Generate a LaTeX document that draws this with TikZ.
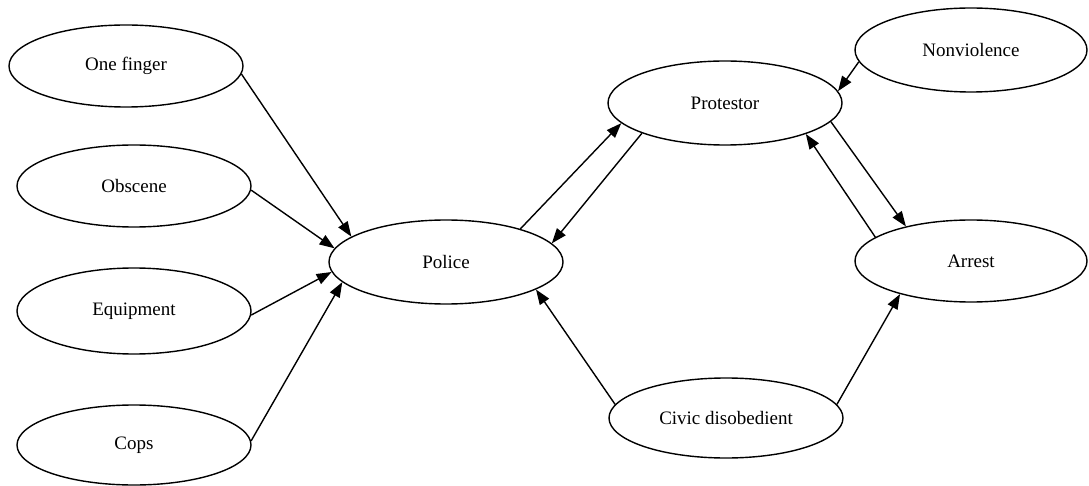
\documentclass[tikz,border=0pt]{standalone}
\usepackage{fontspec}
\setmainfont{Liberation Serif}
\usetikzlibrary{shapes.geometric,arrows.meta}
\begin{document}
\begin{tikzpicture}[x=1pt,y=-1pt,
  concept/.style={draw, ellipse, line width=1.4pt, minimum width=234pt, minimum height=82pt, inner sep=0pt, font=\fontsize{19}{22}\selectfont},
  link/.style={line width=1.4pt, -{Triangle[length=15pt,width=11pt]}}]
\useasboundingbox (0,0) rectangle (1089,486);
\node[concept] (onefinger) at (126,66) {One finger};
\node[concept] (obscene) at (134,186) {Obscene};
\node[concept, minimum height=86pt] (equipment) at (134,311) {Equipment};
\node[concept, minimum height=80pt] (cops) at (134,445) {Cops};
\node[concept, minimum height=84pt] (police) at (446,262) {Police};
\node[concept, minimum height=84pt] (protestor) at (725,103) {Protestor};
\node[concept, minimum width=232pt, minimum height=84pt] (nonviolence) at (971,50) {Nonviolence};
\node[concept, minimum width=232pt] (arrest) at (971,261) {Arrest};
\node[concept, minimum height=80pt] (civic) at (726,418) {Civic disobedient};

\draw[link] (onefinger.-4) -- (police.165);
\draw[link] (obscene.-2) -- (police.173);
\draw[link] (equipment.-2) -- (police.185);
\draw[link] (cops.2.5) -- (police.191);
\draw[link] (police.24) -- (protestor.191);
\draw[link] (protestor.200) -- (police.10);
\draw[link] (nonviolence.186) -- (protestor.6.6);
\draw[link] (protestor.-10) -- (arrest.152);
\draw[link] (arrest.166) -- (protestor.-21);
\draw[link] (civic.173) -- (police.-17);
\draw[link] (civic.7) -- (arrest.205.6);
\end{tikzpicture}
\end{document}
